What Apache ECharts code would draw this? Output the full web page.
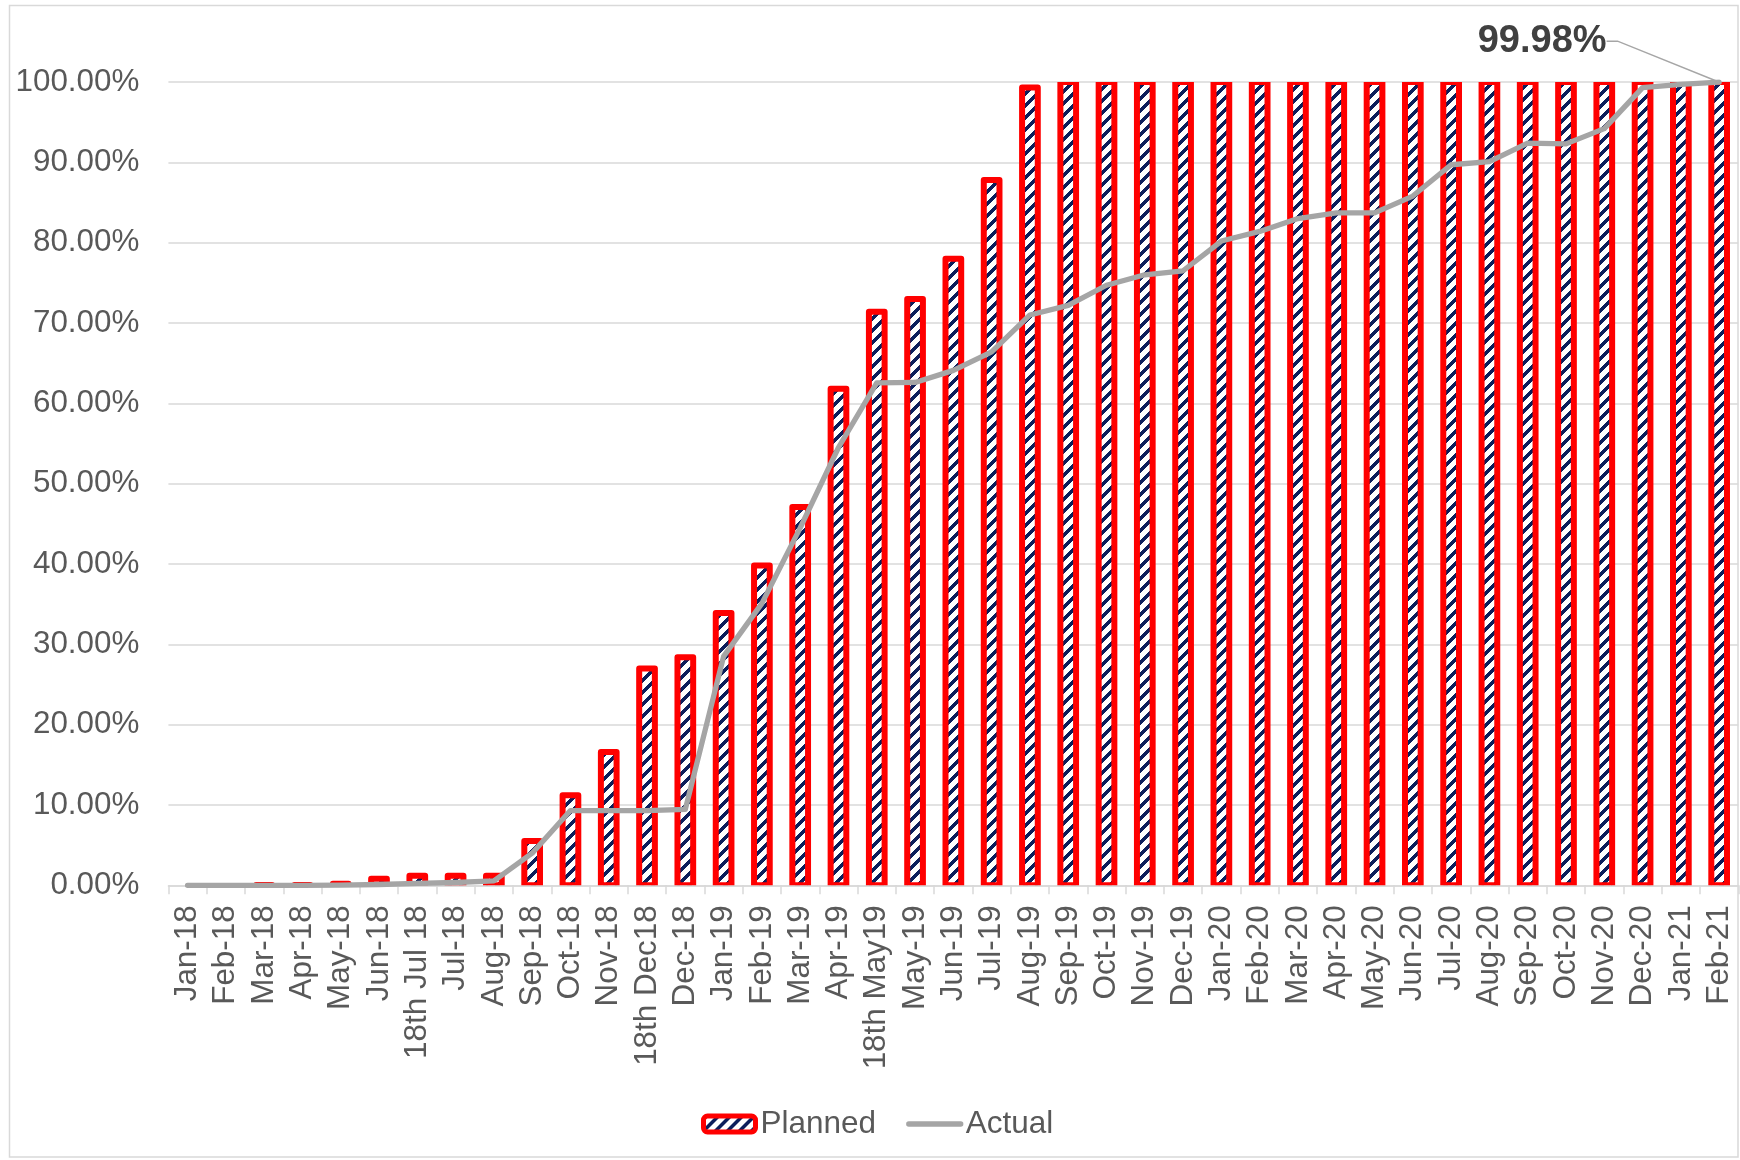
<!DOCTYPE html>
<html>
<head>
<meta charset="utf-8">
<title>Planned vs Actual</title>
<script src="https://cdn.jsdelivr.net/npm/echarts@6/dist/echarts.min.js"></script>
<style>
  html, body { margin: 0; padding: 0; background: #ffffff; }
  #chart { width: 1740px; height: 1160px; }
</style>
</head>
<body>
<div id="chart"></div>
<script>
// Month labels along the x axis (two mid-month checkpoints included)
const categories = [
  'Jan-18', 'Feb-18', 'Mar-18', 'Apr-18', 'May-18', 'Jun-18', '18th Jul 18', 'Jul-18',
  'Aug-18', 'Sep-18', 'Oct-18', 'Nov-18', '18th Dec18', 'Dec-18', 'Jan-19', 'Feb-19',
  'Mar-19', 'Apr-19', '18th May19', 'May-19', 'Jun-19', 'Jul-19', 'Aug-19', 'Sep-19',
  'Oct-19', 'Nov-19', 'Dec-19', 'Jan-20', 'Feb-20', 'Mar-20', 'Apr-20', 'May-20',
  'Jun-20', 'Jul-20', 'Aug-20', 'Sep-20', 'Oct-20', 'Nov-20', 'Dec-20', 'Jan-21', 'Feb-21'
];

// Cumulative progress, in percent
const planned = [
  0, 0, 0.03, 0.04, 0.2, 0.8, 1.2, 1.2,
  1.2, 5.5, 11.2, 16.6, 27.0, 28.4, 33.9, 39.8,
  47.1, 61.8, 71.4, 73.0, 78.0, 87.8, 99.3, 100,
  100, 100, 100, 100, 100, 100, 100, 100,
  100, 100, 100, 100, 100, 100, 100, 100, 100
];

const actual = [
  0, 0, 0, 0, 0.02, 0.1, 0.25, 0.35,
  0.55, 4.0, 9.3, 9.3, 9.3, 9.45, 28.5, 35.1,
  44.5, 54.5, 62.55, 62.6, 64.1, 66.4, 71.0, 72.2,
  74.7, 76.0, 76.5, 80.2, 81.4, 83.0, 83.7, 83.7,
  85.8, 89.7, 90.1, 92.4, 92.3, 94.2, 99.3, 99.7, 99.98
];

// Y axis range and step, in percent
const yMin = 0;
const yMax = 100;
const yStep = 10;

const FONT = '"Liberation Sans", Arial, Helvetica, sans-serif';
const TEXT_GREY = '#595959';
const GRID_GREY = '#d9d9d9';
const LINE_GREY = '#a5a5a5';
const BAR_RED = '#ff0000';

// White fill with navy "/" stripes for the planned bars
function stripePattern() {
  const size = 12;
  const c = document.createElement('canvas');
  c.width = size;
  c.height = size;
  const g = c.getContext('2d');
  g.fillStyle = '#ffffff';
  g.fillRect(0, 0, size, size);
  g.fillStyle = '#0c1e5b';
  for (let y = 0; y < size; y++) {
    for (let x = 0; x < size; x++) {
      if ((x + y) % size < 5) g.fillRect(x, y, 1, 1);
    }
  }
  return c;
}

const stripes = { image: stripePattern(), repeat: 'repeat' };
const pct = v => v.toFixed(2) + '%';
const lastIdx = actual.length - 1;

// Bars are drawn as rectangles whose outline is centred on the value,
// so the red frame straddles the bar's true top edge.
const BAR_WIDTH = 15.7;
const BAR_BORDER = 6;
function renderPlannedBar(params, api) {
  const v = api.value(1);
  if (!v) return null;
  const top = api.coord([api.value(0), v]);
  const base = api.coord([api.value(0), 0]);
  return {
    type: 'rect',
    shape: { x: top[0] - BAR_WIDTH / 2, y: top[1], width: BAR_WIDTH, height: base[1] - top[1] },
    style: { fill: stripes, stroke: BAR_RED, lineWidth: BAR_BORDER, lineJoin: 'round' }
  };
}

const chart = echarts.init(document.getElementById('chart'), null, { renderer: 'canvas' });

chart.setOption({
  animation: false,
  backgroundColor: '#ffffff',
  textStyle: { fontFamily: FONT },
  graphic: [{
    type: 'rect',
    silent: true,
    z: -10,
    shape: { x: 9.5, y: 5.5, width: 1728.5, height: 1151.5 },
    style: { fill: 'none', stroke: GRID_GREY, lineWidth: 1.5 }
  }],
  grid: {
    left: 168.4,
    right: 1.7,
    top: 82,
    bottom: 274.7,
    containLabel: false,
    outerBoundsMode: 'none'
  },
  legend: {
    left: 701,
    top: 1108,
    padding: 0,
    itemWidth: 52,
    itemHeight: 16,
    itemGap: 30,
    textStyle: { color: TEXT_GREY, fontSize: 31.5, fontFamily: FONT },
    data: [
      { name: 'Planned', itemStyle: { color: stripes, borderWidth: 5, borderColor: BAR_RED } },
      {
        name: 'Actual',
        itemStyle: { opacity: 0 },
        lineStyle: { width: 5.3, color: LINE_GREY, cap: 'round' }
      }
    ]
  },
  xAxis: {
    type: 'category',
    data: categories,
    boundaryGap: true,
    axisLine: { show: true, lineStyle: { color: GRID_GREY, width: 1.5 } },
    axisTick: { show: true, length: 9, lineStyle: { color: GRID_GREY, width: 1.5 } },
    axisLabel: {
      interval: 0,
      rotate: 90,
      margin: 20,
      color: TEXT_GREY,
      fontSize: 31.4,
      fontFamily: FONT
    },
    splitLine: { show: false }
  },
  yAxis: {
    type: 'value',
    min: yMin,
    max: yMax,
    interval: yStep,
    axisLine: { show: false },
    axisTick: { show: false },
    axisLabel: {
      formatter: pct,
      margin: 29,
      color: TEXT_GREY,
      fontSize: 31.4,
      fontFamily: FONT
    },
    splitLine: { show: true, lineStyle: { color: GRID_GREY, width: 1.5 } }
  },
  series: [
    {
      name: 'Planned',
      type: 'custom',
      clip: true,
      renderItem: renderPlannedBar,
      encode: { x: 0, y: 1 },
      itemStyle: { color: stripes, borderColor: BAR_RED, borderWidth: BAR_BORDER },
      emphasis: { disabled: true },
      data: planned.map((v, i) => [i, v])
    },
    {
      name: 'Actual',
      type: 'line',
      symbol: 'none',
      showAllSymbol: true,
      smooth: false,
      lineStyle: { color: LINE_GREY, width: 5.3, cap: 'round', join: 'round' },
      itemStyle: { color: LINE_GREY },
      emphasis: { disabled: true },
      labelLine: {
        show: true,
        length2: 11,
        lineStyle: { color: '#a6a6a6', width: 1.5 }
      },
      labelLayout: p => p.dataIndex === lastIdx ? { dx: -177, dy: -16 } : {},
      data: actual.map((v, i) => i !== lastIdx ? v : {
        value: v,
        symbol: 'circle',
        symbolSize: 2,
        label: {
          show: true,
          position: 'top',
          formatter: p => pct(p.value),
          fontSize: 38,
          fontWeight: 'bold',
          fontFamily: FONT,
          color: '#404040',
          padding: [0, 9]
        }
      })
    }
  ]
});
</script>
</body>
</html>
